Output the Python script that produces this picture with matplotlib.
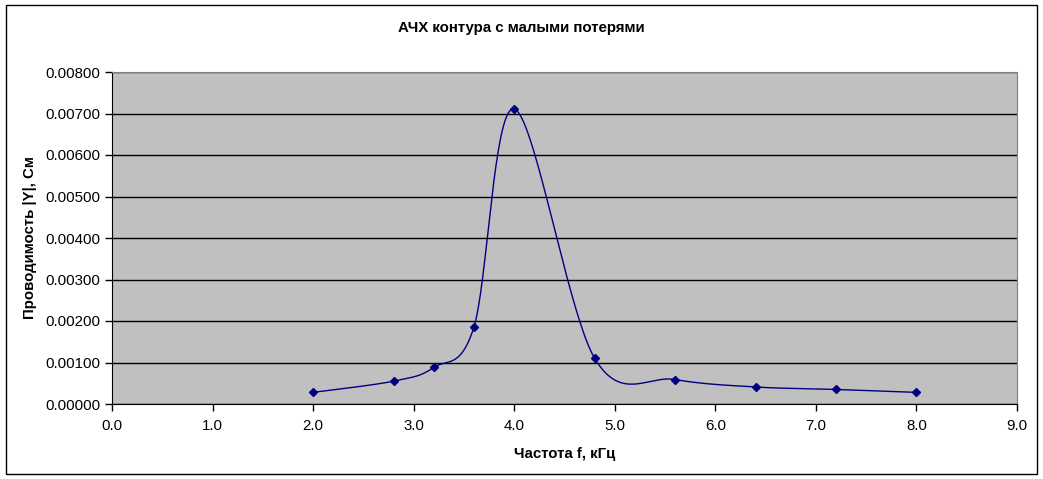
import numpy as np
import matplotlib.pyplot as plt
from matplotlib.patches import Rectangle

plt.rcParams['font.family'] = ['Liberation Sans', 'DejaVu Sans']

freq = [2.0, 2.8, 3.2, 3.6, 4.0, 4.8, 5.6, 6.4, 7.2, 8.0]
admit = [0.00028, 0.00055, 0.00088, 0.00186, 0.00711, 0.00110, 0.00059, 0.00041, 0.00035, 0.00028]


def excel_smooth(x, y, n=40):
    # Excel-like smoothed line: Bezier segments with Catmull-Rom control points
    x = np.asarray(x, float)
    y = np.asarray(y, float)
    px = np.concatenate([[x[0]], x, [x[-1]]])
    py = np.concatenate([[y[0]], y, [y[-1]]])
    xs, ys = [], []
    t = np.linspace(0, 1, n)
    for i in range(1, len(px) - 2):
        p0 = np.array([px[i], py[i]])
        p3 = np.array([px[i + 1], py[i + 1]])
        p1 = p0 + (np.array([px[i + 1], py[i + 1]]) - np.array([px[i - 1], py[i - 1]])) / 6
        p2 = p3 - (np.array([px[i + 2], py[i + 2]]) - np.array([px[i], py[i]])) / 6
        b = ((1 - t) ** 3)[:, None] * p0 + (3 * (1 - t) ** 2 * t)[:, None] * p1 \
            + (3 * (1 - t) * t ** 2)[:, None] * p2 + (t ** 3)[:, None] * p3
        xs.extend(b[:, 0])
        ys.extend(b[:, 1])
    return xs, ys


fig = plt.figure(figsize=(10.43, 4.79), dpi=100)
fig.patches.append(Rectangle((6 / 1043, 5 / 479), 1031 / 1043, 469 / 479,
                             transform=fig.transFigure, fill=False,
                             edgecolor='black', linewidth=1))
ax = fig.add_axes([112 / 1043, 1 - 404 / 479, 905 / 1043, 332 / 479])
ax.set_facecolor('#c0c0c0')

sx, sy = excel_smooth(freq, admit)
ax.plot(sx, sy, color='#000080', linewidth=1)
ax.plot(freq, admit, linestyle='none', marker='D', markersize=4.5, color='#000080')

ax.set_xlim(0, 9)
ax.set_ylim(0, 0.008)
ax.set_xticks(np.arange(0, 10, 1))
ax.set_xticklabels(['%.1f' % v for v in np.arange(0, 10, 1)])
ax.set_yticks(np.arange(0, 0.0081, 0.001))
ax.set_yticklabels(['%.5f' % v for v in np.arange(0, 0.0081, 0.001)])
ax.yaxis.grid(True, color='black', linewidth=1)
ax.set_axisbelow(True)
ax.tick_params(labelsize=10.8, length=5, width=1, direction='out')
ax.tick_params(axis='x', pad=6)
for s in ['top', 'right']:
    ax.spines[s].set_color('#808080')
for s in ['left', 'bottom']:
    ax.spines[s].set_color('black')

ax.set_xlabel('Частота f, кГц', fontsize=10.8, fontweight='bold', labelpad=10)
ax.set_ylabel('Проводимость |Y|, См', fontsize=10.8, fontweight='bold', labelpad=6)
fig.text(0.5, 1 - 28 / 479, 'АЧХ контура с малыми потерями', ha='center', va='center',
         fontsize=10.8, fontweight='bold')

fig.savefig('out.png', dpi=100)
